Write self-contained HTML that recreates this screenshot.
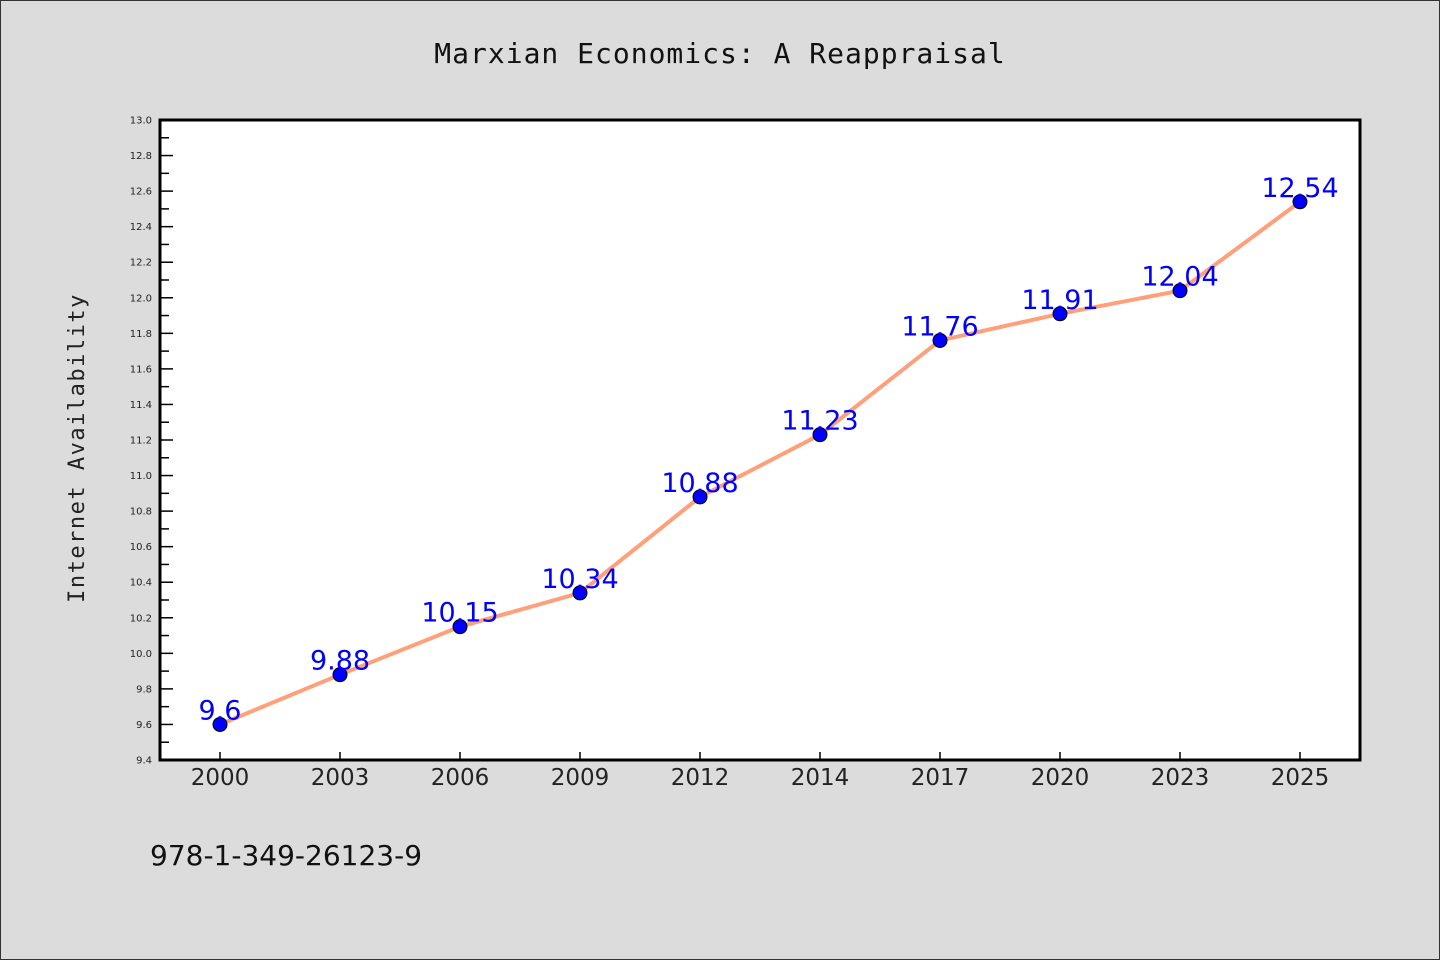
<!DOCTYPE html>
<html><head><meta charset="utf-8"><style>
html,body{margin:0;padding:0;background:#dcdcdc;}
svg{display:block;}
</style></head><body>
<svg id="chart" width="1440" height="960" xmlns="http://www.w3.org/2000/svg">
<rect x="0.5" y="0.5" width="1439" height="959" fill="#dcdcdc" stroke="#333"/>
<text x="720" y="63" text-anchor="middle" font-family="DejaVu Sans Mono, Liberation Mono, monospace" font-size="28" letter-spacing="1" fill="#111">Marxian Economics: A Reappraisal</text>
<rect x="160" y="120" width="1200" height="640" fill="#fff"/>
<g id="yaxis"></g><g id="xaxis"></g><g id="series"></g>
<rect x="160" y="120" width="1200" height="640" fill="none" stroke="#000" stroke-width="3"/>
<text transform="translate(84,448) rotate(-90)" text-anchor="middle" font-family="DejaVu Sans Mono, Liberation Mono, monospace" font-size="22" letter-spacing="1.5" fill="#222">Internet Availability</text>
<text x="150" y="865" font-family="DejaVu Sans, Liberation Sans, sans-serif" font-size="28" fill="#111">978-1-349-26123-9</text>
</svg>
<script>
const categories = ["2000","2003","2006","2009","2012","2014","2017","2020","2023","2025"];
const values = [9.6, 9.88, 10.15, 10.34, 10.88, 11.23, 11.76, 11.91, 12.04, 12.54];
const valueLabels = ["9.6","9.88","10.15","10.34","10.88","11.23","11.76","11.91","12.04","12.54"];
const yTicks = [9.4,9.6,9.8,10.0,10.2,10.4,10.6,10.8,11.0,11.2,11.4,11.6,11.8,12.0,12.2,12.4,12.6,12.8,13.0];
const yMin = 9.4, yMax = 13.0;
const L=160,R=1360,T=120,B=760;
const NS="http://www.w3.org/2000/svg";
function y(v){return B-(v-yMin)/(yMax-yMin)*(B-T);}
function x(i){return 220+i*(R-L-120)/(categories.length-1);}
function mk(t,a,p){const e=document.createElementNS(NS,t);for(const k in a)e.setAttribute(k,a[k]);p.appendChild(e);return e;}
const ya=document.getElementById('yaxis'),xa=document.getElementById('xaxis'),sg=document.getElementById('series');
yTicks.forEach((v,i)=>{
  const t=mk('line',{x1:L,x2:L+13,y1:y(v),y2:y(v),stroke:'#000','stroke-width':1.5},ya);
  
  
  if(i<yTicks.length-1){const m=mk('line',{x1:L,x2:L+9,y1:y(v+0.1),y2:y(v+0.1),stroke:'#000','stroke-width':1.5},ya);
  
  }
  const l=mk('text',{x:L-8,y:y(v)+3.5,'text-anchor':'end','font-family':'DejaVu Sans, sans-serif','font-size':10,fill:'#222'},ya);
  l.textContent=v.toFixed(1);
  
  
});
categories.forEach((c,i)=>{
  const t=mk('line',{x1:x(i),x2:x(i),y1:B,y2:B-8,stroke:'#000','stroke-width':1.5},xa);
  
  
  const l=mk('text',{x:x(i),y:B+25,'text-anchor':'middle','font-family':'DejaVu Sans, sans-serif','font-size':23,fill:'#222'},xa);
  l.textContent=c;
  
  
});
const pl=mk('polyline',{points:values.map((v,i)=>x(i)+','+y(v)).join(' '),fill:'none',stroke:'#ffa07a','stroke-width':4},sg);


values.forEach((v,i)=>{
  const c=mk('circle',{cx:x(i),cy:y(v),r:7,fill:'#0000ff',stroke:'#000','stroke-width':1},sg);
  
  
});
values.forEach((v,i)=>{
  const l=mk('text',{x:x(i),y:y(v)-5,'text-anchor':'middle','font-family':'DejaVu Sans, sans-serif','font-size':27,fill:'#0000ff'},sg);
  l.textContent=valueLabels[i];
  
  
});
</script>
</body></html>
